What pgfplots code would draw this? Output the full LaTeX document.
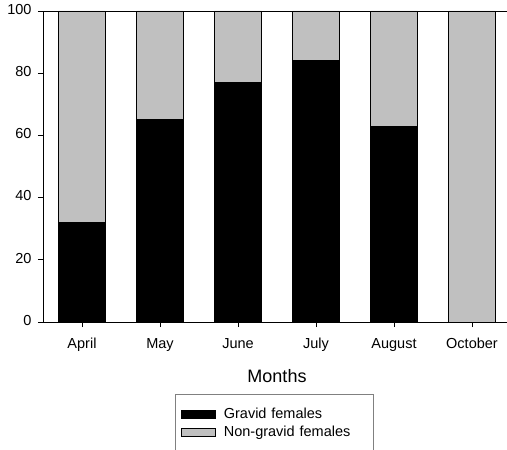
\documentclass[border=0pt]{standalone}
\usepackage{pgfplots}
\pgfplotsset{compat=1.18}
\usepackage{fontspec}
\setmainfont{Liberation Sans}
\definecolor{nongrav}{RGB}{192,192,192}
\begin{document}
\begin{tikzpicture}
\begin{axis}[
    at={(0,0)}, anchor=south west,
    scale only axis=true,
    width=468pt, height=311pt,
    ybar stacked,
    bar width=47pt,
    xmin=-0.5, xmax=5.5,
    ymin=0, ymax=100,
    axis x line*=bottom, axis y line*=left,
    xtick=data,
    xticklabels={April,May,June,July,August,October},
    ytick={0,20,40,60,80,100},
    axis line style={line width=0.9pt, -},
    tick style={line width=0.8pt, black},
    major tick length=5pt,
    tick align=outside,
    /pgf/number format/assume math mode=true,
    typeset ticklabels with strut,
    tick label style={font=\fontsize{14.5}{16}\selectfont},
    xticklabel style={yshift=-7pt},
    yticklabel style={xshift=-3pt},
    xlabel={Months},
    xlabel style={font=\fontsize{18}{21}\selectfont, yshift=-9pt},
    legend cell align=left,
    legend style={at={(0.4936,-0.2315)}, anchor=north,
        draw=gray, line width=0.6pt,
        font=\fontsize{14.5}{16}\selectfont,
        inner xsep=6pt, inner ysep=12pt,
        row sep=2pt,
        nodes={text width=141pt}},
    legend image code/.code={\draw[#1, line width=0.6pt] (0pt,-4pt) rectangle (34pt,4pt); \path (40pt,0pt);},
]
\addplot[fill=black, draw=black, line width=0.8pt] coordinates {(0,32) (1,65) (2,77) (3,84) (4,63) (5,0)};
\addplot[fill=nongrav, draw=black, line width=0.8pt] coordinates {(0,68) (1,35) (2,23) (3,16) (4,37) (5,100)};
\legend{Gravid females, Non-gravid females}
\draw[line width=0.9pt] (rel axis cs:0,1) -- (rel axis cs:1,1);
\end{axis}
\pgfresetboundingbox
\useasboundingbox (-43pt,-128pt) rectangle (464pt,322pt);
\end{tikzpicture}
\end{document}
